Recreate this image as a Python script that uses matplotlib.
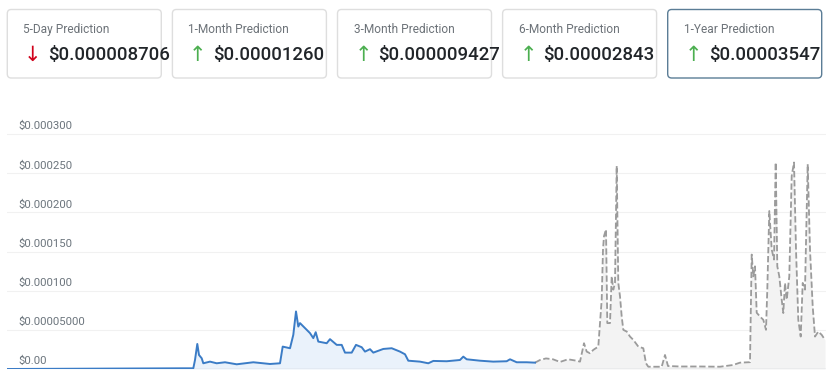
import matplotlib.pyplot as plt
from matplotlib.patches import FancyBboxPatch

plt.rcParams['font.family'] = ['Roboto', 'DejaVu Sans']

# prediction cards
card_titles = ['5-Day Prediction', '1-Month Prediction', '3-Month Prediction',
               '6-Month Prediction', '1-Year Prediction']
card_values = ['$0.000008706', '$0.00001260', '$0.000009427',
               '$0.00002843', '$0.00003547']
card_up = [False, True, True, True, True]

# price history (days, price in 1e-6 USD)
hist_day = [0, 176.3, 186.3, 188, 190.3, 192, 194.7, 196.3, 203, 209.7, 218, 229.7,
            246.3, 263, 273, 275.7, 283, 286.3, 289, 291.3, 293, 298, 303, 306.3,
            308.7, 311.3, 319.7, 323, 329.7, 334.7, 338, 344.7, 349, 354.7, 358,
            363, 366.3, 376.3, 384.7, 393, 398, 401.3, 413, 421.3, 426.3, 439.7,
            453, 456.3, 459.7, 473, 486.3, 499.7, 503, 509.7, 519.7, 528]
hist_price = [0, 0.9, 0.9, 11.5, 32.0, 17.9, 13.7, 7.3, 9.4, 7.3, 8.6, 6.0,
              8.6, 6.4, 7.3, 28.6, 26.5, 43.6, 73.5, 54.2, 58.6, 52.2, 45.8, 39.4,
              47.0, 35.0, 32.9, 38.1, 30.8, 30.8, 20.9, 20.9, 30.8, 27.8, 22.2,
              25.3, 20.9, 25.6, 26.5, 22.2, 18.8, 10.6, 9.4, 7.3, 10.3, 9.9,
              11.5, 15.8, 12.4, 10.6, 9.4, 9.9, 12.4, 8.6, 8.6, 8.1]

# forecast
pred_day = [528, 533, 539, 546, 553, 561, 568, 573, 577, 579.7, 583, 586.3, 591.3,
            594.7, 596, 597, 599, 600.3, 603, 604.7, 606.3, 608, 609.7, 611.3,
            613, 614.7, 616.3, 619.7, 623, 626.3, 631.3, 636.3, 639, 641.3, 649.7,
            654.7, 658, 661, 673, 693, 713, 726, 733, 743, 744.7, 746.3, 748,
            749.7, 753, 756.3, 759, 760.3, 762.3, 764.7, 767, 768.7, 770.3, 772.3,
            774.7, 776.3, 778, 779.7, 782.3, 784.7, 787, 789, 791.3, 793.7, 795.7,
            798, 800.7, 803, 805.7, 808, 811.3, 814.7, 818]
pred_price = [8.1, 11.5, 13.5, 12.4, 9.0, 12.4, 10.9, 9.4, 32.9, 22.2, 20.1, 24.4,
              28.6, 88.5, 152.6, 169.6, 178.2, 58.6, 58.6, 118.3, 101.3, 109.9,
              259.3, 109.9, 92.7, 67.0, 50.0, 47.8, 41.4, 37.2, 28.6, 26.5, 7.3,
              2.9, 2.9, 2.9, 17.9, 3.8, 3.2, 3.2, 2.9, 5.1, 8.1, 8.7, 146.1, 118.3,
              131.1, 71.8, 67.0, 62.8, 50.0, 101.3, 201.7, 152.6, 139.7, 263.7,
              131.1, 118.3, 88.5, 71.4, 109.9, 88.5, 118.3, 246.5, 263.7, 152.6,
              62.8, 41.4, 109.9, 101.3, 261.5, 152.6, 79.9, 41.4, 47.8, 43.6, 37.2]

y_ticks = [0, 50, 100, 150, 200, 250, 300]
y_labels = ['$0.00', '$0.00005000', '$0.000100', '$0.000150',
            '$0.000200', '$0.000250', '$0.000300']

fig = plt.figure(figsize=(8.32, 3.78), dpi=100)

# cards drawn in pixel coordinates of the figure
top = fig.add_axes([0, 0, 1, 1])
top.set_xlim(0, 832)
top.set_ylim(378, 0)
top.axis('off')

for i in range(len(card_titles)):
    x0 = 7.3 + i * 165.1
    edge = '#5b7d96' if i == len(card_titles) - 1 else '#dedede'
    box = FancyBboxPatch((x0, 9.5), 154, 68.5, boxstyle='round,pad=0,rounding_size=4',
                         facecolor='white', edgecolor=edge, linewidth=1.0)
    top.add_patch(box)
    top.text(x0 + 16, 29.5, card_titles[i], fontsize=8.6, color='#6c7278',
             va='center', ha='left')
    arrow = '\u2191' if card_up[i] else '\u2193'
    acolor = '#4caf50' if card_up[i] else '#d0021b'
    top.text(x0 + 25.5, 55, arrow, fontsize=15, color=acolor, va='center',
             ha='center', family=['DejaVu Sans'])
    top.text(x0 + 41, 55.5, card_values[i], fontsize=13.4, color='#212529',
             va='center', ha='left', fontweight='medium')

ax = fig.add_axes([7 / 832, 9 / 378, 819 / 832, 249 / 378])
ax.set_xlim(0, 819)
ax.set_ylim(0, 317.9)

for t in y_ticks[1:]:
    ax.axhline(t, color='#f1f1f1', lw=0.8, zorder=0)

ax.fill_between(pred_day, pred_price, color='#f3f3f3', lw=0, zorder=1)
ax.fill_between(hist_day, hist_price, color='#eaf2fb', lw=0, zorder=1)
ax.plot(pred_day, pred_price, color='#9b9b9b', lw=1.3, ls=(0, (3.5, 1.5)), zorder=2)
ax.plot(hist_day, hist_price, color='#3b7cc6', lw=1.4, zorder=3)
ax.axhline(0, color='#c9ced3', lw=1.0, zorder=2)

for t, lab in zip(y_ticks, y_labels):
    ax.annotate(lab, (11, t), xytext=(0, 5.5), textcoords='offset points',
                va='center', ha='left', fontsize=8.2, color='#6c757d')

for s in ax.spines.values():
    s.set_visible(False)
ax.set_xticks([])
ax.set_yticks([])
ax.patch.set_alpha(0)

fig.savefig('out.png', dpi=100)
